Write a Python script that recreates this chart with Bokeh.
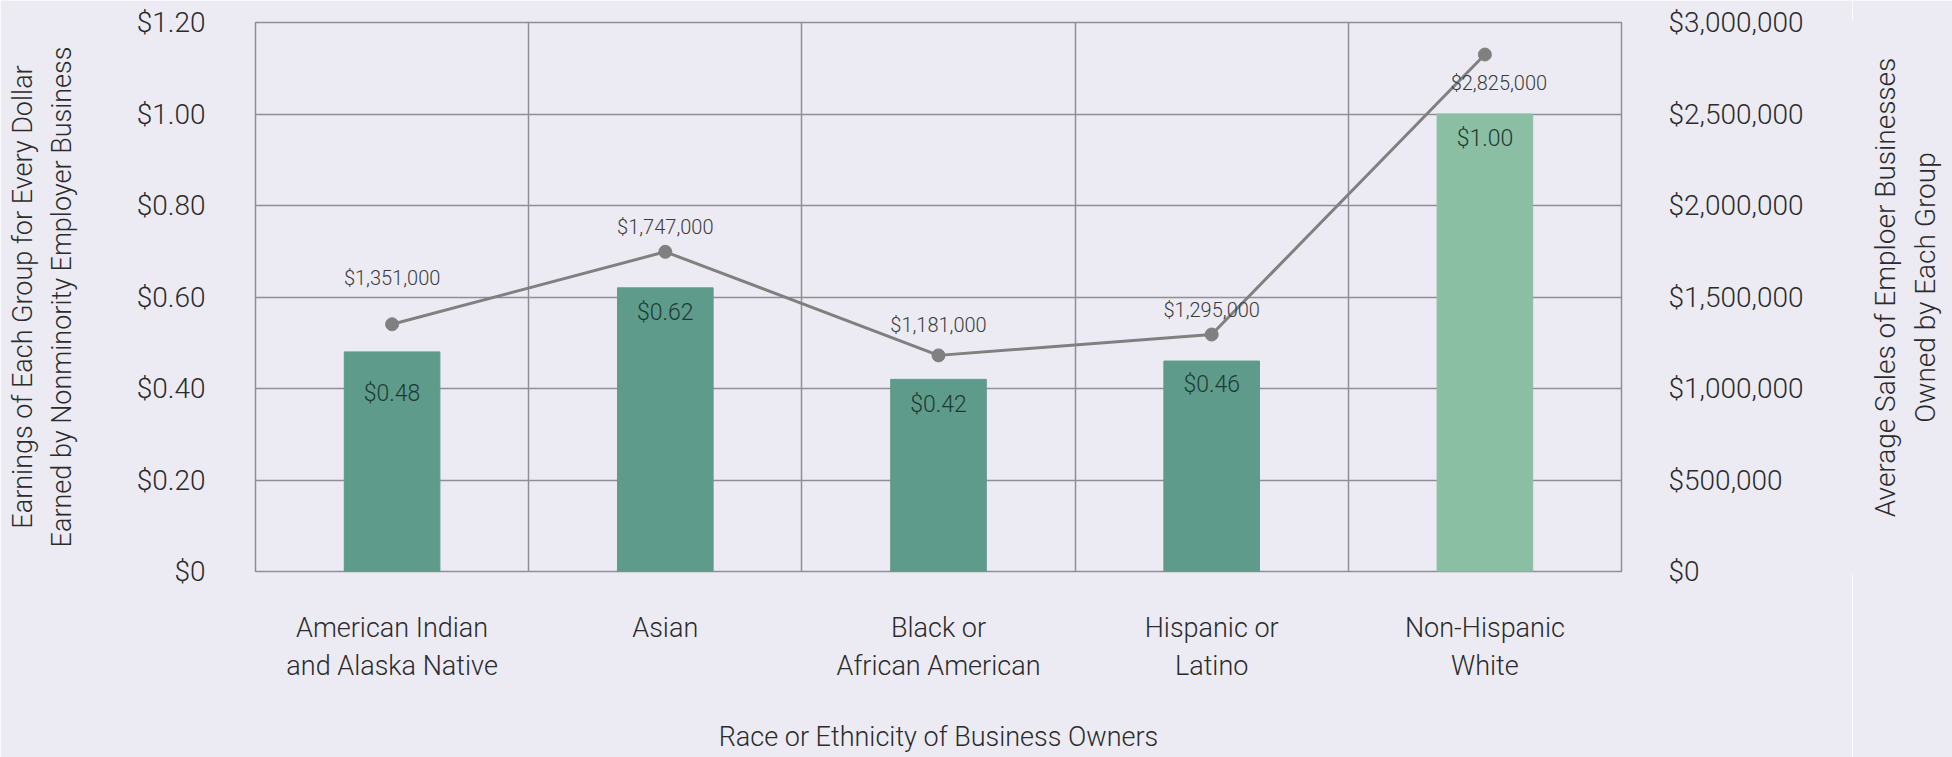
import math
from bokeh.plotting import figure
from bokeh.layouts import row
from bokeh.models import (Range1d, LinearAxis, FixedTicker, ColumnDataSource,
                          NumeralTickFormatter)
from bokeh.core.properties import value
from bokeh.embed import file_html
from bokeh.resources import INLINE
import numpy as np

# ---- data ----
categories = ["American Indian and Alaska Native", "Asian", "Black or African American",
              "Hispanic or Latino", "Non-Hispanic White"]
tick_labels = ["American Indian\nand Alaska Native", "Asian", "Black or\nAfrican American",
               "Hispanic or\nLatino", "Non-Hispanic\nWhite"]
earnings_per_dollar = [0.48, 0.62, 0.42, 0.46, 1.00]
average_sales = [1351000, 1747000, 1181000, 1295000, 2825000]
left_ticks = [0, 0.2, 0.4, 0.6, 0.8, 1.0, 1.2]
right_ticks = [0, 500000, 1000000, 1500000, 2000000, 2500000, 3000000]
right_title = "Average Sales of Emploer Businesses\nOwned by Each Group"

# ---- style ----
FONT = "Roboto Light"
BG = "#ECEBF4"
GRID = "#8E8E94"
BAR = "#5E9B8B"
BAR_REF = "#8BBFA4"
LINE = "#808080"
TXT = "#2B2B2B"

H = 757
W_MAIN, W_SIDE = 1852, 100
B_LEFT, B_RIGHT, B_TOP, B_BOTTOM = 255, 231, 22, 186
FRAME_H = H - B_TOP - B_BOTTOM

xs = np.arange(len(categories)) + 0.5
bar_colors = [BAR] * (len(categories) - 1) + [BAR_REF]
bar_label_dy = [42, 25, 25, 23, 24]
sales_label_dx = [0, 0, 0, 0, 14]
sales_label_dy = [-46, -25, -30, -25, 28]

src = ColumnDataSource(dict(
    x=xs, cat=categories, earn=earnings_per_dollar, sales=average_sales,
    earn_txt=["${:.2f}".format(v) for v in earnings_per_dollar],
    sales_txt=["${:,}".format(v) for v in average_sales],
    color=bar_colors, bdy=bar_label_dy, dx=sales_label_dx, dy=sales_label_dy,
))

p = figure(width=W_MAIN, height=H, x_range=Range1d(0, 5), y_range=Range1d(0, 1.2),
           output_backend="svg", toolbar_location=None,
           min_border_left=B_LEFT, min_border_right=B_RIGHT,
           min_border_top=B_TOP, min_border_bottom=B_BOTTOM,
           background_fill_color=BG, border_fill_color=BG,
           outline_line_color=GRID, outline_line_width=1.5)

p.extra_y_ranges = {"sales": Range1d(0, 3000000)}

# left axis
ya = p.yaxis[0]
ya.ticker = FixedTicker(ticks=left_ticks)
ya.formatter = NumeralTickFormatter(format="$0.00")
ya.major_label_overrides = {0: "$0"}
ya.axis_label = "Earnings of Each Group for Every Dollar\nEarned by Nonminority Employer Business"

# right axis
ra = LinearAxis(y_range_name="sales", ticker=FixedTicker(ticks=right_ticks),
                formatter=NumeralTickFormatter(format="$0,0"))
p.add_layout(ra, "right")

# x axis
xa = p.xaxis[0]
xa.ticker = FixedTicker(ticks=list(xs))
xa.major_label_overrides = {float(x): t for x, t in zip(xs, tick_labels)}
xa.axis_label = "Race or Ethnicity of Business Owners"

for ax in [ya, ra, xa]:
    ax.axis_line_color = None
    ax.major_tick_line_color = None
    ax.minor_tick_line_color = None
    ax.major_label_text_font = FONT
    ax.major_label_text_color = TXT
    ax.axis_label_text_font = FONT
    ax.axis_label_text_color = TXT
    ax.axis_label_text_font_style = "normal"

ya.major_label_text_font_size = "28px"
ra.major_label_text_font_size = "28px"
xa.major_label_text_font_size = "27px"
ya.axis_label_text_font_size = "27px"
xa.axis_label_text_font_size = "27px"
ya.major_label_standoff = 44
ra.major_label_standoff = 41
xa.major_label_standoff = 34
ya.axis_label_standoff = 56
xa.axis_label_standoff = 36

# grids
p.ygrid.ticker = FixedTicker(ticks=left_ticks[1:-1])
p.xgrid.ticker = FixedTicker(ticks=[1, 2, 3, 4])
for g in [p.xgrid[0], p.ygrid[0]]:
    g.grid_line_color = GRID
    g.grid_line_width = 1.5

# bars
p.vbar(x="x", top="earn", width=0.35, color="color", source=src)
p.text(x="x", y="earn", text="earn_txt", source=src, y_offset="bdy",
       text_align="center", text_baseline="middle", text_font=value(FONT),
       text_font_size="23px", text_color="#1D3A31")

# line
p.line(x="x", y="sales", source=src, y_range_name="sales", line_color=LINE, line_width=3)
p.scatter(x="x", y="sales", source=src, y_range_name="sales", size=13,
          fill_color=LINE, line_color=LINE)
p.text(x="x", y="sales", text="sales_txt", source=src, y_range_name="sales",
       x_offset="dx", y_offset="dy", text_align="center", text_baseline="middle",
       text_font=value(FONT), text_font_size="20px", text_color="#3C3C3C")

# narrow side panel holding the right-hand axis title (reads bottom to top)
side = figure(width=W_SIDE, height=H, x_range=Range1d(0, W_SIDE), y_range=Range1d(0, FRAME_H),
              output_backend="svg", toolbar_location=None,
              x_axis_location=None, y_axis_location=None,
              min_border_left=0, min_border_right=0,
              min_border_top=B_TOP, min_border_bottom=B_BOTTOM,
              background_fill_color=BG, border_fill_color=BG,
              outline_line_color=BG, outline_line_width=4)
side.xgrid.visible = False
side.ygrid.visible = False
title_cx, title_cy = 53, (H - B_BOTTOM) - 287
side.text(x=[title_cx], y=[title_cy], text=[right_title], angle=math.pi / 2,
          text_align="center", text_baseline="middle", text_font=value(FONT),
          text_font_size="28px", text_color=TXT, text_line_height=1.2)

layout = row(p, side, spacing=0)
html = file_html(layout, INLINE)
html = html.replace("<body>", '<body style="margin:0;background:%s">' % BG, 1)
open("out.html", "w").write(html)
